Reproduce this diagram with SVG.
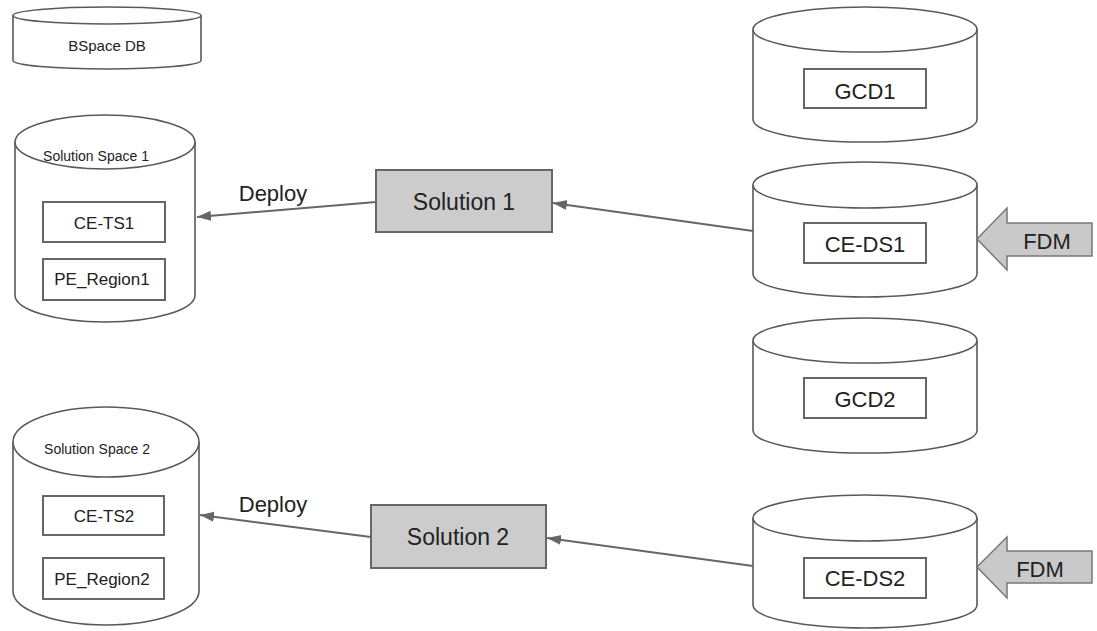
<svg xmlns="http://www.w3.org/2000/svg" width="1097" height="631" viewBox="0 0 1097 631">
<style>
  .cyl { fill: #ffffff; stroke: #595959; stroke-width: 1.6; }
  .inner { fill: #ffffff; stroke: #666666; stroke-width: 2; }
  .sol { fill: #cccccc; stroke: #666666; stroke-width: 2; }
  .fdm { fill: #c9c9c9; stroke: #777777; stroke-width: 1.5; }
  .conn { fill: none; stroke: #666666; stroke-width: 2; marker-end: url(#arrow); }
  text { font-family: "Liberation Sans", Arial, sans-serif; fill: #222222; text-anchor: middle; }
  .t14 { font-size: 14px; }
  .t15 { font-size: 15px; }
  .t17 { font-size: 17px; }
  .t22 { font-size: 22px; }
  .t23 { font-size: 23px; }
</style>
<defs>
  <marker id="arrow" markerUnits="userSpaceOnUse" markerWidth="16" markerHeight="12" refX="14" refY="5" orient="auto">
    <path d="M0,0 L14,5 L0,10 z" fill="#666666"/>
  </marker>
</defs>
<rect width="1097" height="631" fill="#ffffff"/>

<g id="bspace-db">
  <path class="cyl" d="M13,15.5 L13,60.5 A94,8.5 0 0 0 201,60.5 L201,15.5"/>
  <ellipse class="cyl" cx="107" cy="15.5" rx="94" ry="8.5"/>
  <text class="t15" x="107" y="51">BSpace DB</text>
</g>

<g id="solution-space-1">
  <path class="cyl" d="M15,142 L15,295 A90,27 0 0 0 195,295 L195,142"/>
  <ellipse class="cyl" cx="105" cy="142" rx="90" ry="27"/>
  <text class="t14" x="96" y="161">Solution Space 1</text>
  <rect class="inner" x="43" y="202" width="122" height="40"/>
  <text class="t17" x="104" y="229">CE-TS1</text>
  <rect class="inner" x="43" y="259" width="122" height="41"/>
  <text class="t17" x="102" y="285">PE_Region1</text>
</g>

<g id="solution-space-2">
  <path class="cyl" d="M13,442 L13,591 A93,34 0 0 0 199,591 L199,442"/>
  <ellipse class="cyl" cx="106" cy="442" rx="93" ry="35"/>
  <text class="t14" x="97" y="454">Solution Space 2</text>
  <rect class="inner" x="43" y="496" width="121" height="39"/>
  <text class="t17" x="104" y="522">CE-TS2</text>
  <rect class="inner" x="43" y="558" width="121" height="41"/>
  <text class="t17" x="102" y="585">PE_Region2</text>
</g>

<g id="solution-1">
  <rect class="sol" x="376" y="170" width="176" height="62"/>
  <text class="t23" x="464" y="210">Solution 1</text>
</g>

<g id="solution-2">
  <rect class="sol" x="371" y="505" width="175" height="63"/>
  <text class="t23" x="458" y="545">Solution 2</text>
</g>

<g id="gcd1">
  <path class="cyl" d="M753,29.5 L753,119.5 A112,22.5 0 0 0 977,119.5 L977,29.5"/>
  <ellipse class="cyl" cx="865" cy="29.5" rx="112" ry="22.5"/>
  <rect class="inner" x="804" y="69" width="122" height="39"/>
  <text class="t22" x="865" y="99">GCD1</text>
</g>

<g id="ce-ds1">
  <path class="cyl" d="M753,185 L753,274 A112,23 0 0 0 977,274 L977,185"/>
  <ellipse class="cyl" cx="865" cy="185" rx="112" ry="23"/>
  <rect class="inner" x="804" y="223" width="122" height="40"/>
  <text class="t22" x="865" y="252">CE-DS1</text>
</g>

<g id="gcd2">
  <path class="cyl" d="M753,340.5 L753,430.5 A112,22.5 0 0 0 977,430.5 L977,340.5"/>
  <ellipse class="cyl" cx="865" cy="340.5" rx="112" ry="22.5"/>
  <rect class="inner" x="804" y="378" width="122" height="40"/>
  <text class="t22" x="865" y="407">GCD2</text>
</g>

<g id="ce-ds2">
  <path class="cyl" d="M753,518 L753,605 A112,23 0 0 0 977,605 L977,518"/>
  <ellipse class="cyl" cx="865" cy="518" rx="112" ry="23"/>
  <rect class="inner" x="804" y="558" width="122" height="40"/>
  <text class="t22" x="865" y="586">CE-DS2</text>
</g>

<g id="fdm-1">
  <polygon class="fdm" points="977,239 1007,208 1007,223 1092,223 1092,256 1007,256 1007,270"/>
  <text class="t22" x="1047" y="249">FDM</text>
</g>

<g id="fdm-2">
  <polygon class="fdm" points="977,567 1007,537 1007,551 1092,551 1092,583 1007,583 1007,598"/>
  <text class="t22" x="1040" y="577">FDM</text>
</g>

<g id="connectors">
  <line class="conn" x1="753" y1="231" x2="553" y2="203"/>
  <line class="conn" x1="376" y1="202" x2="197" y2="217"/>
  <line class="conn" x1="753" y1="566" x2="547" y2="538"/>
  <line class="conn" x1="371" y1="537" x2="200" y2="515"/>
  <text class="t22" x="273" y="201">Deploy</text>
  <text class="t22" x="273" y="512">Deploy</text>
</g>
</svg>
